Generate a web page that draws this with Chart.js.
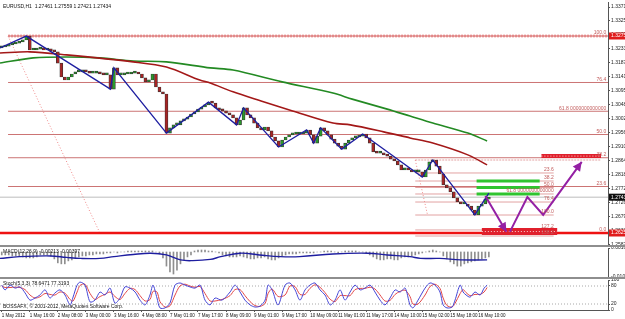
<!DOCTYPE html>
<html>
<head>
<meta charset="utf-8">
<script src="https://cdn.jsdelivr.net/npm/chart.js@4.4.0/dist/chart.umd.min.js"></script>
<style>
  html, body { margin: 0; padding: 0; background: #fff; }
  #wrap { position: relative; width: 625px; height: 319px; overflow: hidden; background: #fff; }
  canvas { position: absolute; left: 0; }
  .sep { position: absolute; left: 0; width: 625px; height: 2px; background: #8e8e8e; }
</style>
</head>
<body>
<div id="wrap">
  <canvas id="price" width="625" height="246" style="top:0"></canvas>
  <div class="sep" style="top:245px"></div>
  <canvas id="macd" width="625" height="30" style="top:247px"></canvas>
  <div class="sep" style="top:277px"></div>
  <canvas id="stoch" width="625" height="40" style="top:279px"></canvas>
</div>
<script>
/* ––––– data (x = hourly bar index from 1 May 2012 00:00) ––––– */
const barStep = 2;                 // one candle sample every 2 hourly bars
const firstOpen = 1.3236;
const closes = [
  1.3239,1.3242,1.3246,1.3249,1.3252,1.3256,1.3262,1.3275,1.3229,1.3229,
  1.3232,1.3236,1.3229,1.3232,1.3226,1.3223,1.3186,1.3140,1.3130,1.3140,
  1.3150,1.3157,1.3157,1.3160,1.3157,1.3153,1.3153,1.3157,1.3150,1.3147,
  1.3147,1.3100,1.3170,1.3147,1.3147,1.3150,1.3150,1.3153,1.3153,1.3150,
  1.3137,1.3124,1.3130,1.3150,1.3107,1.3091,1.3084,1.2955,1.2972,1.2982,
  1.2982,1.2995,1.3001,1.3008,1.3018,1.3025,1.3034,1.3041,1.3048,1.3057,
  1.3054,1.3038,1.3031,1.3028,1.3021,1.3015,1.3005,1.2982,1.2998,1.3038,
  1.3015,1.3005,1.2988,1.2972,1.2965,1.2975,1.2962,1.2942,1.2929,1.2909,
  1.2932,1.2942,1.2949,1.2952,1.2952,1.2952,1.2955,1.2965,1.2949,1.2922,
  1.2945,1.2972,1.2962,1.2949,1.2935,1.2922,1.2912,1.2902,1.2922,1.2932,
  1.2939,1.2942,1.2945,1.2952,1.2939,1.2922,1.2893,1.2889,1.2889,1.2883,
  1.2879,1.2869,1.2863,1.2850,1.2833,1.2840,1.2833,1.2827,1.2827,1.2827,
  1.2810,1.2833,1.2860,1.2866,1.2846,1.2820,1.2784,1.2774,1.2761,1.2741,
  1.2728,1.2721,1.2721,1.2714,1.2701,1.2685,1.2714,1.2721,1.2737,1.2743
];
const zigzag = [[-1,1.3236],[14,1.3275],[62,1.3100],[64,1.3170],[94,1.2955],[118,1.3057],
  [134,1.2982],[138,1.3038],[158,1.2909],[174,1.2965],[178,1.2922],[182,1.2972],[194,1.2902],
  [206,1.2952],[240,1.2810],[246,1.2866],[270,1.2685],[278,1.2757]];
const maSlow = [[-1,1.3186],[18,1.3203],[37,1.3206],[56,1.3203],[75,1.3193],[94,1.3190],[119,1.3170],
  [132,1.3163],[160,1.3124],[189,1.3087],[200,1.3067],[220,1.3034],[233,1.3011],[246,1.2988],
  [266,1.2955],[277,1.2929]];
const maFast = [[-1,1.3219],[16,1.3223],[37,1.3213],[75,1.3190],[94,1.3173],[113,1.3130],[119,1.3120],
  [132,1.3091],[148,1.3061],[166,1.3028],[189,1.2988],[199,1.2982],[218,1.2959],[233,1.2939],
  [246,1.2922],[266,1.2883],[277,1.2850]];
const projLeg1 = [[276,1.2747],[288,1.2629]];
const projLeg2 = [[290,1.2629],[300,1.2744],[309,1.2685],[331,1.2860]];

const fibMain = { hi: 1.32753, lo: 1.26252, from: 3.6, diagTo: 56 };
const fibMainLevels = [100.0, 76.4, 61.8, 50.0, 38.2, 23.6, 0.0];
const fibSmall = { hi: 1.28661, lo: 1.26846, from: 236, to: 315, zeroTo: 342, diagTo: 243 };
const fibSmallLevels = [0.0, 23.6, 38.2, 50.0, 61.8, 76.4, 100.0, 127.2, 138.2];
const greenZones = [38.2, 50.0, 61.8];          // small-fib levels, bars 271-307
const greenSpan = [271, 307];
const boxTop = { from: 308, to: 342, price: 1.2879 };
const boxBottom = { from: 274, to: 317, price: 1.2630 };
const bidPrice = 1.27434;

const priceTicks = [1.33710,1.33250,1.32790,1.32330,1.31870,1.31410,1.30950,1.30480,1.30020,
  1.29560,1.29100,1.28640,1.28180,1.27720,1.27260,1.26790,1.26330,1.25870];

const macdHist = [
  -0.0012,-0.0012,-0.0012,-0.0016,-0.0016,-0.0016,-0.0020,-0.0024,-0.0024,-0.0024,
  -0.0020,-0.0012,-0.0012,-0.0012,-0.0016,-0.0028,-0.0044,-0.0048,-0.0048,-0.0036,
  -0.0032,-0.0024,-0.0020,-0.0016,-0.0016,-0.0012,-0.0012,-0.0008,-0.0008,-0.0008,
  -0.0004,-0.0004,0,-0.0004,0,0,0.0004,0.0004,0.0004,0.0004,
  0.0004,0.0004,0.0004,0.0004,0,-0.0008,-0.0024,-0.0057,-0.0081,-0.0089,
  -0.0073,-0.0048,-0.0032,-0.0020,-0.0012,0.0004,0.0008,0.0008,0.0008,0.0004,
  0.0004,0,-0.0004,-0.0012,-0.0016,-0.0020,-0.0020,-0.0020,-0.0016,-0.0020,
  -0.0024,-0.0028,-0.0028,-0.0024,-0.0024,-0.0020,-0.0028,-0.0032,-0.0032,-0.0024,
  -0.0016,-0.0012,-0.0008,-0.0008,-0.0008,-0.0004,-0.0004,-0.0004,-0.0004,-0.0004,
  0,0,0.0004,0.0004,0.0004,0,-0.0004,0,0.0004,0.0004,
  0.0004,0.0004,0,0,-0.0004,-0.0012,-0.0020,-0.0028,-0.0032,-0.0032,
  -0.0028,-0.0028,-0.0032,-0.0032,-0.0024,-0.0020,-0.0020,-0.0016,-0.0012,-0.0008,
  -0.0004,0,0.0004,0.0008,0.0004,0,-0.0016,-0.0028,-0.0040,-0.0048,
  -0.0057,-0.0057,-0.0048,-0.0044,-0.0040,-0.0036,-0.0032,-0.0028,-0.0024,-0.0020
];
const macdSignal = [[-1,-0.0026],[10,-0.0019],[28,-0.0016],[37,-0.0022],[45,-0.0026],[56,-0.0026],
  [64,-0.0019],[75,-0.0010],[85,-0.0005],[94,-0.0012],[102,-0.0032],[109,-0.0035],[119,-0.0030],
  [125,-0.0019],[136,-0.0005],[147,-0.0012],[159,-0.0019],[170,-0.0019],[189,-0.0008],[209,-0.0005],
  [220,-0.0012],[233,-0.0019],[239,-0.0026],[250,-0.0026],[262,-0.0032],[277,-0.0032]];
const macdTicks = [0.0016, -0.0101];

const stochBars = [
  0,1.9,4.7,7.6,10.4,13.3,16.1,19,21.8,24.7,
  27.5,30.4,33.2,36.1,39,40.7,43,44.7,47.5,50.4,
  53.2,56.1,58.9,61.8,64.6,67.5,70.3,73.2,76.1,78.9,
  81.8,84.6,86.3,88.6,90.3,93.2,96,98.9,101.7,104.6,
  107.4,110.3,113.2,116,118.9,121.7,125.7,130.3,133.1,136,
  138.8,141.7,144.5,147.4,150.3,152,154.3,157.7,161.7,164.5,
  167.4,170.2,173.1,175.9,178.8,181.6,184.5,187.4,190.2,193.1,
  195.9,198.8,201.6,204.5,207.3,210.2,213,215.9,218.7,221.6,
  224.5,227.3,230.2,233,234.7,237.6,241.6,244.4,247.3,250.1,
  251.9,254.1,257,258.7,261.6,263.3,265,267.3,270.1,273,
  275.3,277
];
const stochMain = [
  83,67,83,73,77,57,33,40,50,67, 40,57,67,50,17,43,83,93,83,27,
  33,60,50,73,23,40,77,73,60,33, 17,50,83,40,7,7,23,83,90,83,
  77,73,83,33,17,40,33,60,83,60, 33,17,10,13,33,83,67,17,83,90,
  67,33,67,83,90,67,50,17,33,67, 33,60,83,67,73,83,60,33,17,40,
  67,60,73,17,7,33,73,90,83,60, 17,7,10,33,83,60,50,43,60,50,
  73,83
];
const stochSignal = [
  80,75,75,76,75,68,50,40,44,55, 52,50,60,56,35,30,60,82,86,55,
  35,45,52,60,45,35,55,72,68,48, 30,35,62,60,28,10,14,50,80,86,
  80,76,78,55,30,30,35,48,68,68, 48,28,15,12,22,55,70,45,50,80,
  78,52,52,72,84,76,58,36,28,48, 48,48,68,72,72,76,70,50,30,32,
  52,62,66,45,20,20,50,78,86,72, 40,15,10,22,55,68,58,48,52,52,
  60,75
];
const stochTicks = [100, 80, 20, 0];
const stochLevels = [80, 20];

const timeLabels = ['1 May 2012','1 May 16:00','2 May 08:00','3 May 00:00','3 May 16:00','4 May 08:00',
  '7 May 01:00','7 May 17:00','8 May 09:00','9 May 01:00','9 May 17:00','10 May 09:00','11 May 01:00',
  '11 May 17:00','14 May 10:00','15 May 02:00','15 May 18:00','16 May 10:00'];
const labelEvery = 16;             // bars between time labels

/* ––––– helpers ––––– */
const FONT = '"Liberation Sans", Arial, sans-serif';
Chart.defaults.font.family = FONT;
Chart.defaults.font.size = 5;
Chart.defaults.color = '#222';
const X_MIN = -1, X_MAX = 346;

const xy = a => a.map(([x, y]) => ({x, y}));
const line = (data, color, width, extra) => Object.assign({
  type: 'line', data, borderColor: color, borderWidth: width,
  pointRadius: 0, fill: false, tension: 0
}, extra || {});
const hLine = (x0, x1, p, color, width, extra) =>
  line([{x: x0, y: p}, {x: x1, y: p}], color, width, extra);
const mainPrice = l => fibMain.lo + (fibMain.hi - fibMain.lo) * l / 100;
const smallPrice = l => fibSmall.hi - (fibSmall.hi - fibSmall.lo) * l / 100;

const hiddenX = {type: 'linear', min: X_MIN, max: X_MAX, display: false, offset: false};
const rightY = (min, max, ticks, fmt) => ({
  position: 'right', min, max,
  afterFit: s => { s.width = 17; s.paddingTop = 0; s.paddingBottom = 0; },
  afterBuildTicks: s => { s.ticks = ticks.map(v => ({value: v})); },
  ticks: {callback: fmt, padding: 1, autoSkip: false, color: '#222', font: {size: 5}},
  grid: {drawOnChartArea: false, tickLength: 2, color: '#555'},
  border: {color: '#555'}
});
const baseOpts = pad => ({
  responsive: false, animation: false, events: [],
  layout: {autoPadding: false, padding: pad},
  plugins: {legend: {display: false}, tooltip: {enabled: false}}
});
const textPlugin = items => ({
  id: 'txt',
  afterDraw(chart){
    const ctx = chart.ctx; ctx.save();
    ctx.font = '5px ' + FONT; ctx.fillStyle = '#111'; ctx.textBaseline = 'alphabetic';
    items.forEach(t => ctx.fillText(t.text, t.x, t.y));
    ctx.restore();
  }
});

/* ––––– price panel ––––– */
const candleData = closes.map((c, i) => ({x: i * barStep, y: [i ? closes[i - 1] : firstOpen, c]}));
const candleCol = closes.map((c, i) => c >= (i ? closes[i - 1] : firstOpen) ? '#2a9a2a' : '#a82424');

const fibColor = '#cc7474', fibSmallColor = '#e2a2a2';
const priceSets = [
  line(xy(projLeg1), '#9420a4', 2, {arrow: true}),
  line(xy(projLeg2), '#9420a4', 2, {arrow: true}),
  line(xy(zigzag), '#1e1ea0', 1.3),
  {type: 'bar', data: candleData, backgroundColor: candleCol, borderColor: '#333',
   borderWidth: 0.7, borderSkipped: false, barThickness: 3, minBarLength: 2, grouped: false},
  line(xy(maFast), '#a31818', 1.6, {tension: 0.3}),
  line(xy(maSlow), '#238a23', 1.6, {tension: 0.3}),
  ...greenZones.map(l => hLine(greenSpan[0], greenSpan[1], smallPrice(l), '#2fc42f', 3)),
  hLine(boxTop.from, boxTop.to, boxTop.price, 'rgba(255,255,255,0.8)', 1, {borderDash: [1, 2]}),
  hLine(boxTop.from, boxTop.to, boxTop.price, '#e0202c', 4),
  hLine(boxBottom.from, boxBottom.to, boxBottom.price, 'rgba(255,255,255,0.8)', 1, {borderDash: [1, 2]}),
  hLine(boxBottom.from, boxBottom.to, boxBottom.price, '#e0202c', 7),
  hLine(X_MIN, X_MAX, fibMain.lo, '#ee1212', 2.5),
  hLine(fibMain.from, X_MAX, fibMain.hi, '#d06060', 1),
  hLine(fibMain.from, X_MAX, fibMain.hi, '#f3b0b0', 3, {borderDash: [2, 1]}),
  ...fibMainLevels.filter(l => l > 0 && l < 100)
    .map(l => hLine(fibMain.from, X_MAX, mainPrice(l), fibColor, 1)),
  line([{x: fibMain.from, y: fibMain.hi}, {x: fibMain.diagTo, y: fibMain.lo}], '#f08a8a', 1, {borderDash: [1, 2]}),
  hLine(fibSmall.from, fibSmall.zeroTo, smallPrice(0), fibSmallColor, 1, {borderDash: [2, 1]}),
  ...fibSmallLevels.filter(l => l > 0)
    .map(l => hLine(fibSmall.from, fibSmall.to, smallPrice(l), fibSmallColor, 1)),
  line([{x: fibSmall.from, y: smallPrice(0)}, {x: fibSmall.diagTo, y: smallPrice(100)}], '#f08a8a', 1, {borderDash: [1, 2]}),
  hLine(X_MIN, X_MAX, bidPrice, '#bdbdbd', 1)
];

const arrowPlugin = {
  id: 'arrows',
  afterDatasetsDraw(chart){
    const ctx = chart.ctx;
    chart.data.datasets.forEach((ds, i) => {
      if (!ds.arrow) return;
      const pts = chart.getDatasetMeta(i).data;
      const a = pts[pts.length - 2], b = pts[pts.length - 1];
      const ang = Math.atan2(b.y - a.y, b.x - a.x), L = 9, W = 4.5;
      ctx.save(); ctx.fillStyle = ds.borderColor; ctx.beginPath();
      ctx.moveTo(b.x, b.y);
      ctx.lineTo(b.x - L * Math.cos(ang) + W * Math.sin(ang), b.y - L * Math.sin(ang) - W * Math.cos(ang));
      ctx.lineTo(b.x - L * Math.cos(ang) - W * Math.sin(ang), b.y - L * Math.sin(ang) + W * Math.cos(ang));
      ctx.closePath(); ctx.fill(); ctx.restore();
    });
  }
};

const levelLabels = {
  id: 'levels',
  afterDatasetsDraw(chart){
    const {ctx, scales: {x, y}} = chart;
    ctx.save(); ctx.font = '5px ' + FONT; ctx.textAlign = 'right'; ctx.textBaseline = 'bottom';
    ctx.fillStyle = '#c25c5c';
    fibMainLevels.forEach(l => {
      const t = l === 61.8 ? '61.8 0000000000000' : l.toFixed(1);
      ctx.fillText(t, x.getPixelForValue(X_MAX - 1), y.getPixelForValue(mainPrice(l)) - 0.5);
    });
    fibSmallLevels.filter(l => l > 0).forEach(l => {
      const t = l === 61.8 ? '61.8 0000000000000' : l.toFixed(1);
      ctx.fillText(t, x.getPixelForValue(fibSmall.to), y.getPixelForValue(smallPrice(l)) - 0.5);
    });
    ctx.restore();
  },
  afterDraw(chart){
    const {ctx, scales: {y}} = chart;
    const marks = [[fibMain.hi, '#e01c1c'], [fibMain.lo, '#e01c1c'], [bidPrice, '#111']];
    ctx.save(); ctx.font = '5px ' + FONT; ctx.textBaseline = 'middle';
    marks.forEach(([v, bg]) => {
      const py = y.getPixelForValue(v);
      ctx.fillStyle = bg; ctx.fillRect(609, py - 3.5, 16, 7);
      ctx.fillStyle = '#fff'; ctx.fillText(v.toFixed(5), 611, py);
    });
    ctx.restore();
  }
};

new Chart(document.getElementById('price'), {
  type: 'bar',
  data: {datasets: priceSets},
  options: Object.assign(baseOpts({top: 2, bottom: 1, left: 0, right: 0}), {
    scales: {
      x: hiddenX,
      y: rightY(1.25856, 1.33875, priceTicks, v => v.toFixed(5))
    }
  }),
  plugins: [arrowPlugin, levelLabels,
    textPlugin([{text: 'EURUSD,H1  1.27461 1.27559 1.27421 1.27434', x: 3, y: 8}])]
});

/* ––––– MACD panel ––––– */
new Chart(document.getElementById('macd'), {
  type: 'bar',
  data: {datasets: [
    line(xy(macdSignal), '#1e1ea0', 1.4, {tension: 0.4}),
    {type: 'bar', data: macdHist.map((v, i) => ({x: i * barStep, y: v})),
     backgroundColor: '#8f8f8f', barThickness: 1, grouped: false}
  ]},
  options: Object.assign(baseOpts({top: 1, bottom: 0, left: 0, right: 0}), {
    scales: {
      x: hiddenX,
      y: rightY(-0.0101, 0.0016, macdTicks, v => v.toFixed(5))
    }
  }),
  plugins: [textPlugin([{text: 'MACD(12,26,9) -0.00213 -0.00397', x: 3, y: 6}])]
});

/* ––––– Stochastic panel + time axis ––––– */
new Chart(document.getElementById('stoch'), {
  type: 'line',
  data: {datasets: [
    line(stochBars.map((b, i) => ({x: b, y: stochMain[i]})), '#4545d6', 1, {tension: 0.3}),
    line(stochBars.map((b, i) => ({x: b, y: stochSignal[i]})), '#e24848', 1, {tension: 0.3}),
    ...stochLevels.map(l => hLine(X_MIN, X_MAX, l, '#a8a8a8', 1, {borderDash: [1, 2]}))
  ]},
  options: Object.assign(baseOpts({top: 1, bottom: 0, left: 0, right: 0}), {
    scales: {
      x: {
        type: 'linear', min: X_MIN, max: X_MAX, offset: false,
        afterFit: s => { s.height = 9; s.paddingLeft = 0; s.paddingRight = 0; },
        afterBuildTicks: s => { s.ticks = timeLabels.map((_, i) => ({value: i * labelEvery})); },
        ticks: {callback: (v, i) => timeLabels[i], align: 'start', maxRotation: 0, autoSkip: false,
                padding: 1, color: '#111', font: {size: 4.5}},
        grid: {drawOnChartArea: false, tickLength: 2, color: '#555'},
        border: {color: '#555'}
      },
      y: rightY(0, 100, stochTicks, v => String(v))
    }
  }),
  plugins: [textPlugin([
    {text: 'Stoch(5,3,3) 78.6471 77.3193', x: 3, y: 6},
    {text: 'BOSSAFX, \u00a9 2001-2012, MetaQuotes Software Corp.', x: 3, y: 29}
  ])]
});
</script>
</body>
</html>
